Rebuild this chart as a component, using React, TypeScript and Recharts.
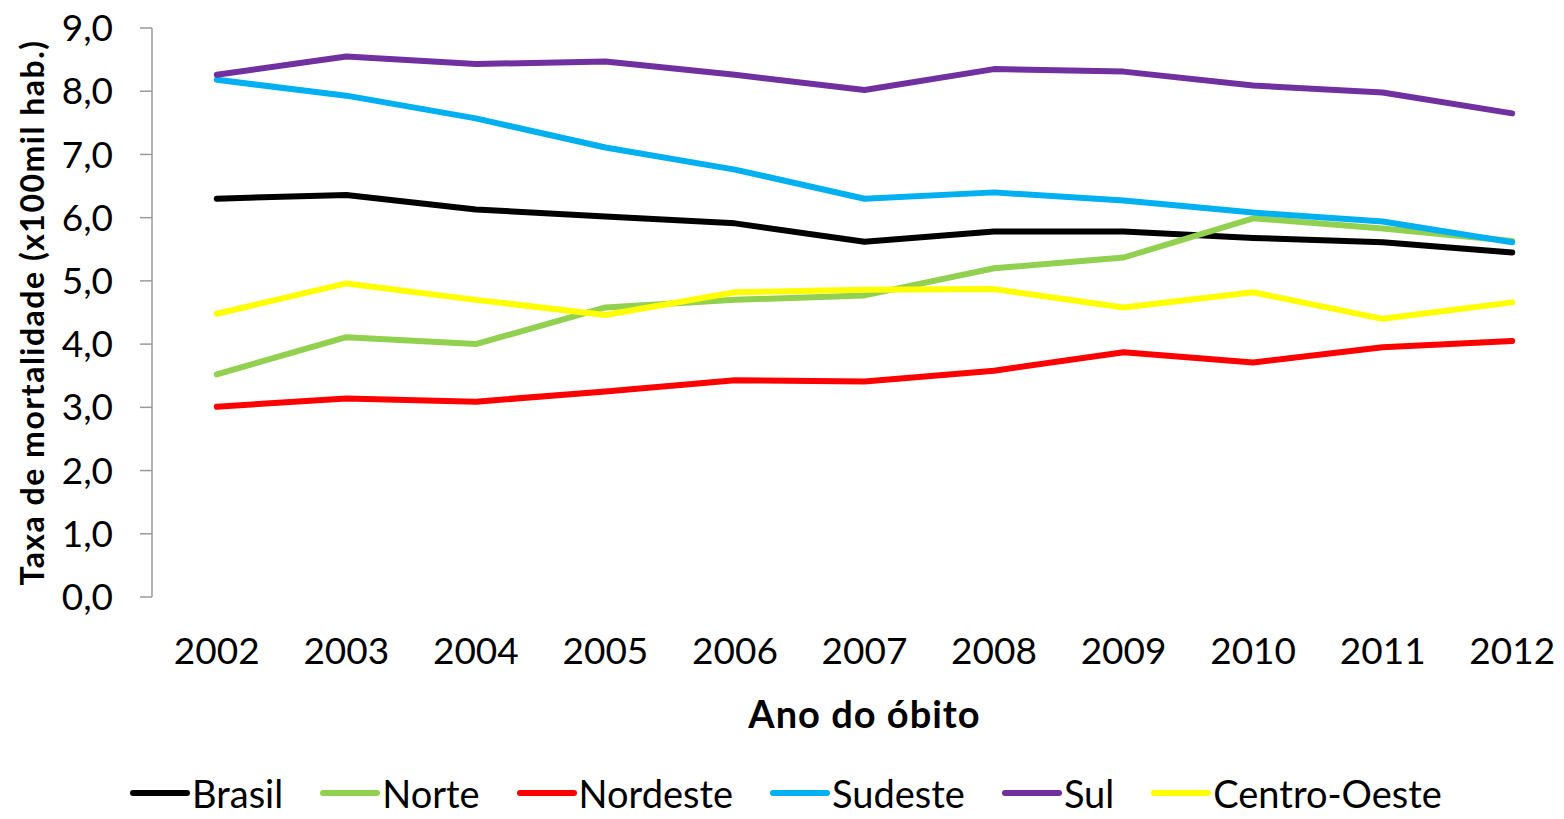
import React from 'react';
import { LineChart, Line, XAxis, YAxis, Legend } from 'recharts';

const years = [2002, 2003, 2004, 2005, 2006, 2007, 2008, 2009, 2010, 2011, 2012];
const brasil = [6.30, 6.36, 6.13, 6.02, 5.91, 5.62, 5.78, 5.78, 5.68, 5.61, 5.45];
const norte = [3.52, 4.11, 4.00, 4.58, 4.70, 4.77, 5.20, 5.37, 5.99, 5.83, 5.63];
const nordeste = [3.01, 3.14, 3.09, 3.25, 3.43, 3.41, 3.58, 3.87, 3.71, 3.95, 4.05];
const sudeste = [8.18, 7.93, 7.57, 7.11, 6.76, 6.30, 6.40, 6.27, 6.08, 5.94, 5.61];
const sul = [8.26, 8.55, 8.43, 8.47, 8.26, 8.02, 8.35, 8.31, 8.09, 7.98, 7.65];
const centroOeste = [4.48, 4.96, 4.70, 4.46, 4.82, 4.86, 4.87, 4.58, 4.82, 4.40, 4.66];
const yTicks = [0, 1, 2, 3, 4, 5, 6, 7, 8, 9];

const seriesNames = ['Brasil', 'Norte', 'Nordeste', 'Sudeste', 'Sul', 'Centro-Oeste'];
const seriesColors = ['#000000', '#92D050', '#FF0000', '#00B0F0', '#7030A0', '#FFFF00'];
const seriesValues = [brasil, norte, nordeste, sudeste, sul, centroOeste];

const data = years.map((yr, i) => {
  const row: Record<string, number> = { year: yr };
  seriesNames.forEach((n, s) => {
    row[n] = seriesValues[s][i];
  });
  return row;
});

const boundaries = [...years.map((y) => y - 0.5), years[years.length - 1] + 0.5];
const domain: [number, number] = [years[0] - 0.5, years[years.length - 1] + 0.5];

const FONT = 'Lato, "Open Sans", sans-serif';
const AXIS = '#9a9a9a';

const renderLegend = (props: any) => {
  const payload = [...(props.payload || [])].sort(
    (a: any, b: any) => seriesNames.indexOf(a.value) - seriesNames.indexOf(b.value)
  );
  return (
    <div
      style={{
        display: 'flex',
        justifyContent: 'center',
        alignItems: 'center',
        height: 40,
        fontFamily: FONT,
        fontSize: 38,
        color: '#000',
        paddingRight: 6,
      }}
    >
      {payload.map((p: any, i: number) => (
        <div key={i} style={{ display: 'flex', alignItems: 'center', marginRight: i < payload.length - 1 ? 36 : 0 }}>
          <svg width={62} height={10} style={{ marginRight: 1 }}>
            <line x1={4} y1={5} x2={58} y2={5} stroke={p.color} strokeWidth={6} strokeLinecap="round" />
          </svg>
          <span style={{ lineHeight: '40px', whiteSpace: 'nowrap' }}>{p.value}</span>
        </div>
      ))}
    </div>
  );
};

const YLabel = (props: any) => {
  const vb = props.viewBox || {};
  const cx = vb.x + 31;
  const cy = vb.y + vb.height / 2;
  return (
    <text
      x={cx}
      y={cy}
      transform={`rotate(-90, ${cx}, ${cy})`}
      textAnchor="middle"
      dominantBaseline="central"
      fontFamily={FONT}
      fontWeight="bold"
      fontSize={32}
      letterSpacing={1.5}
      fill="#000"
    >
      Taxa de mortalidade (x100mil hab.)
    </text>
  );
};

const XLabel = (props: any) => {
  const vb = props.viewBox || {};
  const cx = vb.x + vb.width / 2;
  const cy = vb.y + 116;
  return (
    <text
      x={cx}
      y={cy}
      textAnchor="middle"
      dominantBaseline="central"
      fontFamily={FONT}
      fontWeight="bold"
      fontSize={38}
      letterSpacing={1}
      fill="#000"
    >
      Ano do óbito
    </text>
  );
};

export default function App() {
  return (
    <div style={{ margin: -8, width: 1564, height: 819, overflow: 'hidden', background: '#fff' }}>
      <LineChart width={1580} height={819} data={data} margin={{ top: 28, right: 3, left: 0, bottom: 6 }}>
        <XAxis
          xAxisId={0}
          dataKey="year"
          type="number"
          domain={domain}
          ticks={boundaries}
          tick={false}
          tickSize={14}
          height={0}
          axisLine={{ stroke: AXIS, strokeWidth: 1.5 }}
          tickLine={{ stroke: AXIS, strokeWidth: 1.5 }}
          interval={0}
        />
        <XAxis
          xAxisId="lbl"
          dataKey="year"
          type="number"
          domain={domain}
          ticks={years}
          interval={0}
          height={176}
          axisLine={false}
          tickLine={false}
          tickSize={0}
          tickMargin={41}
          tick={{ fontFamily: FONT, fontSize: 37, fill: '#000' }}
          label={<XLabel />}
        />
        <YAxis
          type="number"
          domain={[0, 9]}
          ticks={yTicks}
          interval={0}
          width={152}
          tickSize={12}
          tickMargin={27}
          tickFormatter={(v: number) => v.toFixed(1).replace('.', ',')}
          tick={{ fontFamily: FONT, fontSize: 37, fill: '#000' }}
          axisLine={{ stroke: AXIS, strokeWidth: 1.5 }}
          tickLine={{ stroke: AXIS, strokeWidth: 1.5 }}
          label={<YLabel />}
        />
        <Legend verticalAlign="bottom" align="center" content={renderLegend} />
        {seriesNames.map((n, s) => (
          <Line
            key={n}
            xAxisId={0}
            dataKey={n}
            name={n}
            stroke={seriesColors[s]}
            strokeWidth={6}
            strokeLinecap="round"
            strokeLinejoin="round"
            dot={false}
            activeDot={false}
            isAnimationActive={false}
            type="linear"
          />
        ))}
      </LineChart>
    </div>
  );
}
